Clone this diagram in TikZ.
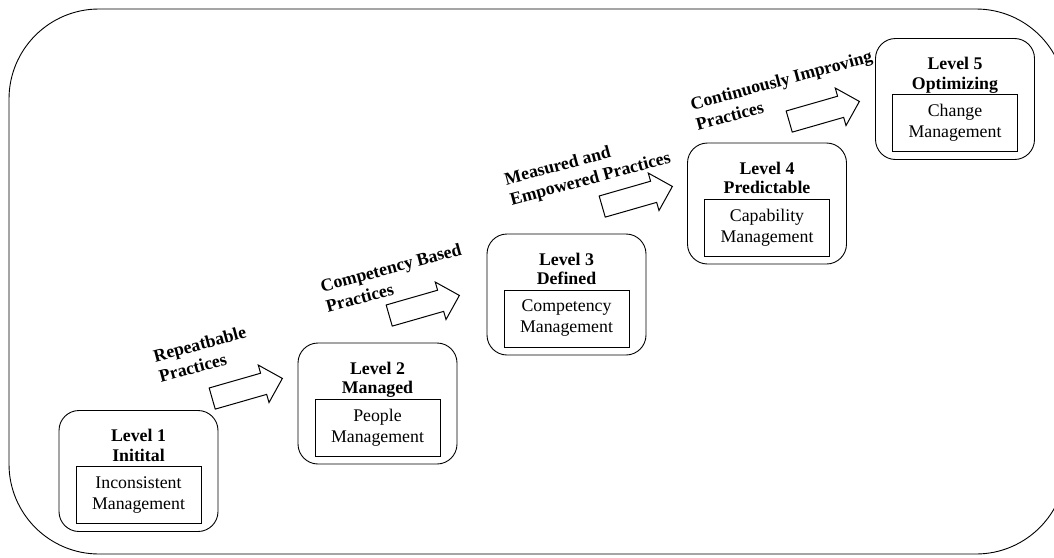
\documentclass[tikz,border=0pt]{standalone}
\usepackage{fontspec}
\setmainfont{Liberation Serif}
\usetikzlibrary{shapes.arrows}
\tikzset{
 level/.style={draw, rounded corners=20pt, minimum width=159pt, minimum height=121pt, line width=0.9pt, inner sep=0pt},
 inbox/.style={draw, minimum width=125pt, minimum height=57pt, line width=0.9pt, align=center, font=\fontsize{17.8}{21}\selectfont, inner sep=0pt, anchor=south},
 ttl/.style={align=center, font=\bfseries\fontsize{17.8}{19.5}\selectfont, inner sep=0pt, anchor=north},
 blk/.style={single arrow, draw, line width=1pt, minimum height=73pt, inner xsep=0pt, inner ysep=10.5pt, single arrow head extend=8.5pt, single arrow tip angle=90, rotate=16},
 lbl/.style={align=left, font=\bfseries\fontsize{17.8}{21}\selectfont, inner sep=0pt, anchor=north west, rotate=15},
}
\begin{document}
\begin{tikzpicture}[x=1pt,y=-1pt]
\useasboundingbox (0,0) rectangle (1054,557);
\clip (0,0) rectangle (1054,557);
\draw[line width=0.9pt, rounded corners=90pt] (9,9) rectangle (1066,554);

% level boxes
\node[level] (L1) at (138.5,471) {};
\node[level] (L2) at (377.5,403.5) {};
\node[level] (L3) at (566.5,294.5) {};
\node[level] (L4) at (767,203.5) {};
\node[level] (L5) at (955,99) {};

\node[ttl] (T1) at ([yshift=-19pt]L1.north) {Level 1\\Initital};
\node[ttl] (T2) at ([yshift=-19pt]L2.north) {Level 2\\Managed};
\node[ttl] (T3) at ([yshift=-19pt]L3.north) {Level 3\\Defined};
\node[ttl] (T4) at ([yshift=-19pt]L4.north) {Level 4\\Predictable};
\node[ttl] (T5) at ([yshift=-19pt]L5.north) {Level 5\\Optimizing};

\node[inbox] (I1) at ([yshift=8pt]L1.south) {Inconsistent\\Management};
\node[inbox] (I2) at ([yshift=8pt]L2.south) {People\\Management};
\node[inbox] (I3) at ([yshift=8pt]L3.south) {Competency\\Management};
\node[inbox] (I4) at ([yshift=8pt]L4.south) {Capability\\Management};
\node[inbox] (I5) at ([yshift=8pt]L5.south) {Change\\Management};

% block arrows
\node[blk] (A1) at (242,390) {};
\node[blk] (A2) at (419,307) {};
\node[blk] (A3) at (632,198) {};
\node[blk] (A4) at (819,113) {};

% labels
\node[lbl] (P1) at (152,350) {Repeatbable\\Practices};
\node[lbl] (P2) at (319,280) {Competency Based\\Practices};
\node[lbl] (P3) at (503,173) {Measured and\\Empowered Practices};
\node[lbl] (P4) at (689,98) {Continuously Improving\\Practices};
\end{tikzpicture}
\end{document}
